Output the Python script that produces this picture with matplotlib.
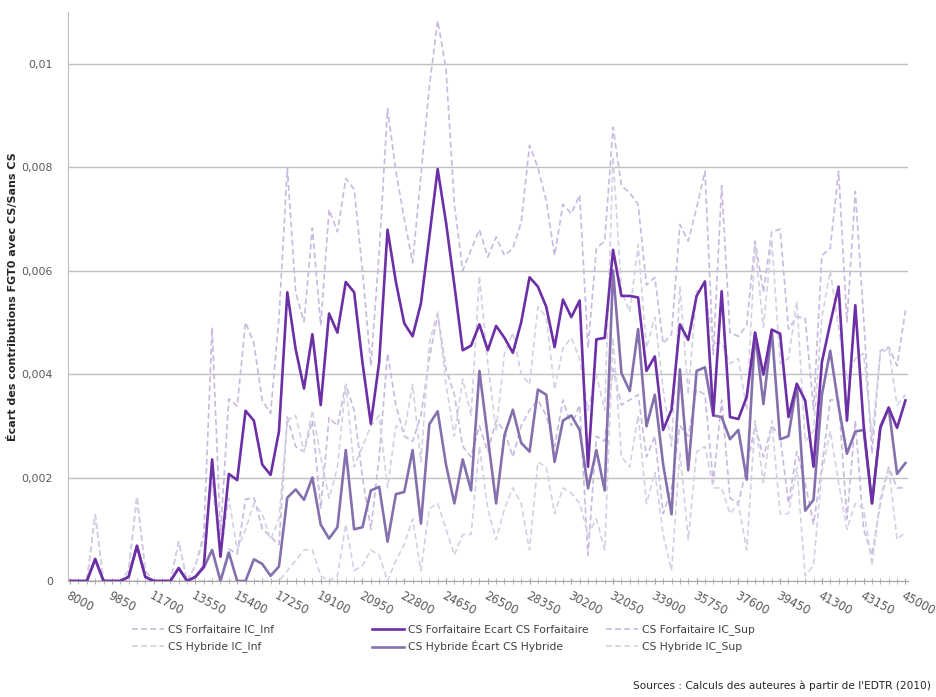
import numpy as np
import matplotlib.pyplot as plt
from matplotlib.ticker import FuncFormatter

# revenus (axe des x) : de 8000 a 45000 par pas de 370
revenus = list(range(8000, 45001, 370))

# valeurs, en milliemes
forfaitaire = [0, 0, 0, 0.42, 0, 0, 0, 0.08, 0.68, 0.08,
               0, 0, 0, 0.25, 0, 0.08, 0.28, 2.35, 0.47, 2.07,
               1.95, 3.29, 3.10, 2.25, 2.05, 2.89, 5.58, 4.48, 3.72, 4.77,
               3.40, 5.17, 4.80, 5.78, 5.58, 4.22, 3.04, 4.23, 6.79, 5.78,
               4.98, 4.73, 5.37, 6.65, 7.96, 6.93, 5.72, 4.46, 4.55, 4.96,
               4.46, 4.93, 4.70, 4.41, 5.00, 5.87, 5.69, 5.30, 4.52, 5.44,
               5.10, 5.42, 2.21, 4.67, 4.70, 6.40, 5.51, 5.51, 5.48, 4.06,
               4.34, 2.92, 3.31, 4.96, 4.66, 5.51, 5.79, 3.20, 5.60, 3.17,
               3.13, 3.56, 4.80, 3.99, 4.86, 4.78, 3.17, 3.81, 3.49, 2.21,
               4.23, 4.98, 5.69, 3.10, 5.33, 3.00, 1.50, 2.96, 3.35, 2.96,
               3.49]
forf_sup = [0, 0, 0, 1.28, 0, 0, 0, 0.2, 1.63, 0.2,
            0, 0, 0, 0.76, 0, 0.3, 0.9, 4.90, 0.90, 3.52,
            3.38, 5.00, 4.59, 3.49, 3.24, 5.08, 7.99, 5.58, 5.01, 6.82,
            4.94, 7.18, 6.75, 7.78, 7.57, 6.00, 4.16, 6.35, 9.13, 7.92,
            7.00, 6.15, 7.85, 9.55, 10.83, 9.90, 7.28, 6.00, 6.40, 6.79,
            6.26, 6.65, 6.29, 6.43, 6.93, 8.42, 7.99, 7.35, 6.29, 7.28,
            7.10, 7.46, 4.50, 6.43, 6.57, 8.77, 7.64, 7.50, 7.28, 5.72,
            5.87, 4.59, 4.77, 6.89, 6.57, 7.21, 7.92, 4.38, 7.64, 4.80,
            4.73, 4.94, 6.57, 5.58, 6.75, 6.80, 4.87, 5.11, 5.08, 3.31,
            6.29, 6.43, 7.92, 5.01, 7.53, 5.08, 2.46, 4.45, 4.52, 4.16,
            5.23]
forf_inf = [0, 0, 0, 0, 0, 0, 0, 0, 0, 0,
            0, 0, 0, 0, 0, 0, 0, 0, 0, 0.62,
            0.52, 1.58, 1.61, 1.01, 0.86, 0.70, 3.17, 2.60, 2.50, 3.10,
            1.40, 3.16, 3.00, 3.80, 3.30, 2.00, 1.00, 2.40, 4.40, 3.40,
            2.80, 2.70, 3.20, 4.30, 5.16, 4.10, 3.60, 2.60, 2.40, 3.00,
            2.50, 3.10, 2.90, 2.40, 3.00, 3.30, 3.50, 3.20, 2.60, 3.50,
            3.00, 3.40, 0.50, 2.80, 2.70, 4.10, 3.40, 3.50, 3.60, 2.40,
            2.80, 1.30, 1.80, 3.00, 2.80, 3.70, 3.60, 1.90, 3.50, 1.60,
            1.50, 2.20, 3.00, 2.40, 3.00, 2.80, 1.50, 2.50, 1.90, 1.10,
            2.20, 3.50, 3.50, 1.20, 3.10, 1.00, 0.50, 1.50, 2.20, 1.80,
            1.80]
hybride = [0, 0, 0, 0.43, 0, 0, 0, 0.08, 0.68, 0.08,
           0, 0, 0, 0.25, 0, 0.08, 0.26, 0.60, 0, 0.55,
           0, 0, 0.42, 0.33, 0.10, 0.28, 1.61, 1.77, 1.57, 2.00,
           1.09, 0.82, 1.04, 2.53, 1.00, 1.04, 1.75, 1.82, 0.76, 1.68,
           1.72, 2.53, 1.11, 3.03, 3.28, 2.25, 1.50, 2.35, 1.75, 4.06,
           2.78, 1.50, 2.82, 3.31, 2.67, 2.50, 3.70, 3.60, 2.30, 3.10,
           3.20, 2.92, 1.79, 2.53, 1.75, 6.00, 4.02, 3.67, 4.87, 2.99,
           3.60, 2.25, 1.29, 4.09, 2.14, 4.06, 4.13, 3.20, 3.17, 2.74,
           2.92, 1.96, 4.80, 3.42, 4.84, 2.74, 2.80, 3.81, 1.36, 1.57,
           3.60, 4.45, 3.38, 2.46, 2.89, 2.92, 1.50, 2.99, 3.35, 2.07,
           2.28]
hyb_sup = [0, 0, 0, 1.28, 0, 0, 0, 0.2, 1.63, 0.2,
           0, 0, 0, 0.76, 0, 0.3, 0.8, 1.9, 0.5, 1.6,
           0.6, 1.0, 1.5, 1.3, 0.8, 1.2, 3.1, 3.2, 2.5, 3.3,
           2.4, 1.6, 2.2, 3.8, 2.2, 2.6, 3.0, 3.2, 1.8, 3.0,
           2.9, 3.8, 2.3, 4.6, 5.2, 3.8, 2.8, 3.9, 3.2, 5.9,
           4.2, 2.9, 4.4, 4.8, 4.0, 3.8, 5.3, 5.1, 3.7, 4.5,
           4.7, 4.3, 3.3, 4.0, 3.3, 8.2, 5.6, 5.2, 6.5, 4.5,
           5.1, 3.7, 2.6, 5.7, 3.6, 5.6, 5.6, 4.6, 4.6, 4.2,
           4.3, 3.3, 6.5, 4.9, 6.6, 4.2, 4.3, 5.4, 2.7, 2.9,
           5.1, 6.0, 4.9, 3.9, 4.3, 4.4, 2.8, 4.4, 4.5, 3.4,
           3.6]
hyb_inf = [0, 0, 0, 0, 0, 0, 0, 0, 0, 0,
           0, 0, 0, 0, 0, 0, 0, 0, 0, 0,
           0, 0, 0, 0, 0, 0, 0.2, 0.4, 0.6, 0.6,
           0.1, 0, 0.1, 1.1, 0.2, 0.3, 0.6, 0.5, 0, 0.4,
           0.7, 1.2, 0.2, 1.4, 1.5, 1.0, 0.5, 0.9, 0.9, 2.6,
           1.4, 0.8, 1.4, 1.8, 1.5, 0.6, 2.3, 2.2, 1.3, 1.8,
           1.7, 1.5, 0.9, 1.2, 0.6, 4.7, 2.4, 2.2, 3.2, 1.5,
           2.1, 0.9, 0.2, 2.5, 0.8, 2.5, 2.6, 1.8, 1.8, 1.3,
           1.5, 0.6, 3.1, 1.9, 3.1, 1.3, 1.3, 2.2, 0.1, 0.3,
           2.1, 2.9, 1.9, 1.0, 1.5, 1.4, 0.3, 1.6, 2.2, 0.8,
           0.95]

plt.rcParams['font.family'] = ['DejaVu Sans']

fig = plt.figure(figsize=(9.36, 6.97), dpi=100)
ax = fig.add_axes([0.0727, 0.1664, 0.8973, 0.8166])

xx = np.arange(len(revenus))
s = 1e-3
dash = (3.5, 2)

l_fi, = ax.plot(xx, np.array(forf_inf)*s, color='#c9b9e0', lw=1.2, dashes=dash)
l_hi, = ax.plot(xx, np.array(hyb_inf)*s, color='#d5d0e3', lw=1.2, dashes=dash)
l_fs, = ax.plot(xx, np.array(forf_sup)*s, color='#c9b9e0', lw=1.2, dashes=dash)
l_hs, = ax.plot(xx, np.array(hyb_sup)*s, color='#d5d0e3', lw=1.2, dashes=dash)
l_h, = ax.plot(xx, np.array(hybride)*s, color='#8570ae', lw=1.9)
l_f, = ax.plot(xx, np.array(forfaitaire)*s, color='#6c2fa6', lw=1.9)

ax.set_xlim(-0.25, 100.3)
ax.set_ylim(0, 0.011)
ax.set_yticks([0, 0.002, 0.004, 0.006, 0.008, 0.01])
ax.yaxis.set_major_formatter(FuncFormatter(
    lambda v, p: '0' if v == 0 else ('%g' % v).replace('.', ',')))
ax.grid(axis='y', color='#c0c0c0', lw=1)
ax.set_axisbelow(True)

ax.set_xticks(xx[::5])
ax.set_xticklabels([str(r) for r in revenus[::5]], rotation=-28,
                   ha='left', rotation_mode='anchor')
ax.set_xticks(xx, minor=True)
ax.tick_params(axis='x', which='both', direction='inout', length=4,
               color='#a6a6a6', labelsize=8.3, labelcolor='#595959', pad=4)
ax.tick_params(axis='y', length=0, labelsize=7.8, labelcolor='#595959', pad=11)

for sp in ['top', 'right']:
    ax.spines[sp].set_visible(False)
ax.spines['left'].set_color('#bfbfbf')
ax.spines['bottom'].set_color('#a6a6a6')

ax.set_ylabel('Écart des contributions FGT0 avec CS/Sans CS', fontsize=8.0,
              fontweight='bold', color='#262626')
ax.yaxis.set_label_coords(-0.06, 0.5)

# trois colonnes de legende
cols = [([l_fi, l_hi], ['CS Forfaitaire IC_Inf', 'CS Hybride IC_Inf'], 132),
        ([l_f, l_h], ['CS Forfaitaire Ecart CS Forfaitaire',
                      'CS Hybride Écart CS Hybride'], 372),
        ([l_fs, l_hs], ['CS Forfaitaire IC_Sup', 'CS Hybride IC_Sup'], 606)]
for hs, ls, xpix in cols:
    fig.legend(hs, ls, loc='upper left', bbox_to_anchor=(xpix / 936, 0.104),
               frameon=False, fontsize=7.75, handlelength=3.0,
               handletextpad=0.3, borderpad=0, borderaxespad=0,
               labelspacing=0.55, labelcolor='#404040')

fig.text(0.994, 0.008, "Sources : Calculs des auteures à partir de l'EDTR (2010)",
         ha='right', va='bottom', fontsize=7.6, color='#262626')

fig.savefig('out.png', dpi=100)
